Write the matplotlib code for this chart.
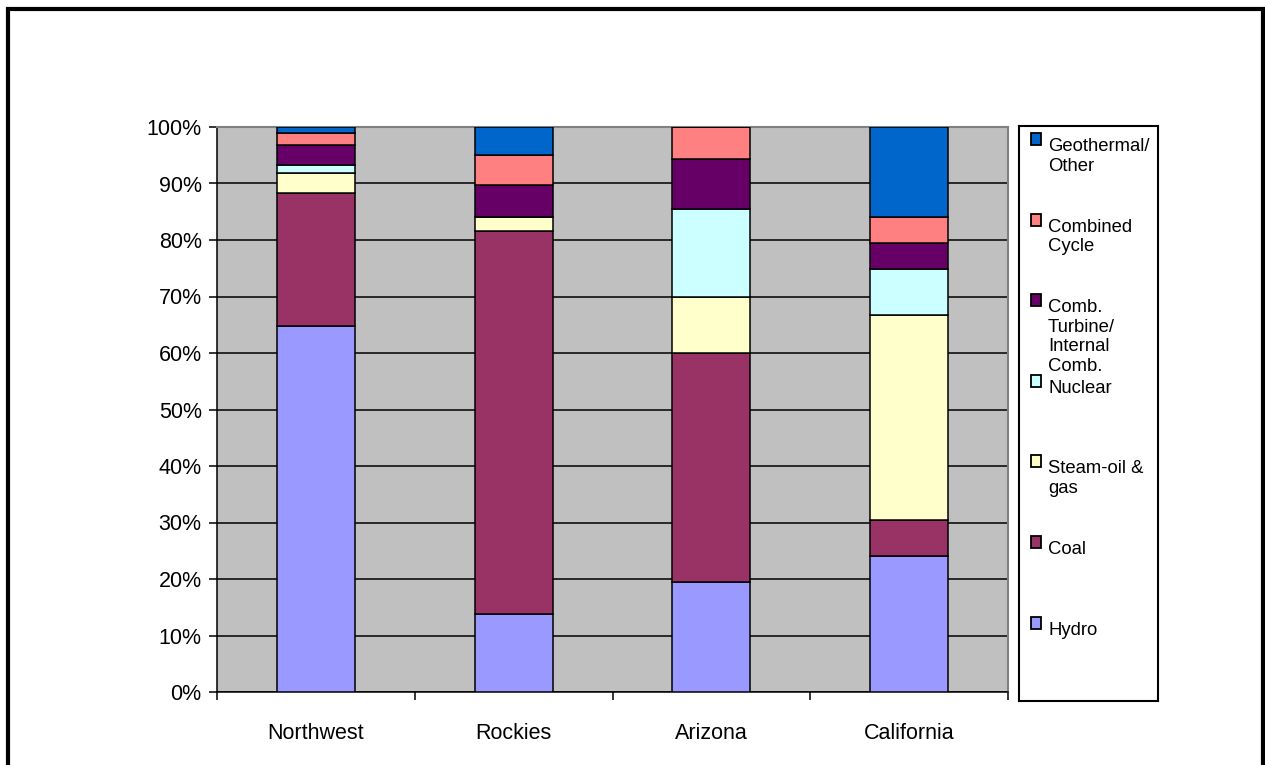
import numpy as np
import matplotlib.pyplot as plt
from matplotlib.patches import Rectangle

plt.rcParams['font.family'] = ['Liberation Sans', 'DejaVu Sans']

regions = ['Northwest', 'Rockies', 'Arizona', 'California']
series = ['Hydro', 'Coal', 'Steam-oil &\ngas', 'Nuclear',
          'Comb.\nTurbine/\nInternal\nComb.', 'Combined\nCycle', 'Geothermal/\nOther']
colors = ['#9999FF', '#993366', '#FFFFCC', '#CCFFFF', '#660066', '#FF8080', '#0066CC']

# shares in percent
hydro = [64.8, 13.8, 19.5, 24.1]
coal = [23.5, 67.8, 40.5, 6.3]
steam = [3.5, 2.4, 10.0, 36.3]
nuclear = [1.4, 0.0, 15.5, 8.2]
comb_turbine = [3.6, 5.7, 8.8, 4.6]
combined_cycle = [2.1, 5.3, 5.7, 4.6]
geothermal = [1.1, 5.0, 0.0, 15.9]

values = [hydro, coal, steam, nuclear, comb_turbine, combined_cycle, geothermal]

W, H = 1265, 765
fig = plt.figure(figsize=(W / 100, H / 100), dpi=100)

# outer frame (bottom edge runs off the picture)
fig.add_artist(Rectangle((8 / W, -0.05), (1263 - 8) / W, (H - 9) / H + 0.05,
                         transform=fig.transFigure, fill=False,
                         edgecolor='black', linewidth=3))

ax = fig.add_axes([217 / W, (H - 692) / H, 791 / W, 565 / H])
ax.set_facecolor('#C0C0C0')

ind = np.arange(len(regions))
bottom = np.zeros(len(regions))
for vals, col in zip(values, colors):
    v = np.array(vals)
    ax.bar(ind, v, 0.395, bottom=bottom, color=col, edgecolor='black',
           linewidth=1.1, zorder=3)
    bottom += v

ax.set_xlim(-0.5, len(regions) - 0.5)
ax.set_ylim(0, 100)
ax.set_yticks(np.arange(0, 101, 10))
ax.set_yticklabels(['%d%%' % t for t in range(0, 101, 10)], fontsize=15.5)
ax.yaxis.grid(True, color='black', linewidth=1.1, zorder=1)
ax.set_axisbelow(True)

ax.set_xticks(ind)
ax.set_xticklabels(regions, fontsize=15.5)
ax.set_xticks(np.arange(-0.5, len(regions)), minor=True)
ax.tick_params(axis='x', which='major', length=0, pad=22)
ax.tick_params(axis='x', which='minor', length=6, width=1.1, direction='out')
ax.tick_params(axis='y', length=6, width=1.1, pad=5)

for s in ['left', 'bottom']:
    ax.spines[s].set_color('black')
    ax.spines[s].set_linewidth(1.1)
for s in ['top', 'right']:
    ax.spines[s].set_color('#808080')
    ax.spines[s].set_linewidth(1.5)

# legend box drawn by hand in pixel units
lx0, lx1, ly0, ly1 = 1019, 1158, 126, 701
lax = fig.add_axes([lx0 / W, (H - ly1) / H, (lx1 - lx0) / W, (ly1 - ly0) / H])
lax.set_xlim(lx0, lx1)
lax.set_ylim(ly1, ly0)
lax.set_xticks([])
lax.set_yticks([])
for s in lax.spines.values():
    s.set_linewidth(1.5)
    s.set_color('black')

top = 133
step = 80.6
for i, (name, col) in enumerate(zip(series[::-1], colors[::-1])):
    y = top + i * step
    lax.add_patch(Rectangle((1031, y), 10, 12, facecolor=col,
                            edgecolor='black', linewidth=1.3))
    lax.text(1048, y + 5, name, fontsize=13.3, va='top', ha='left',
             linespacing=1.2)

fig.savefig('out.png', dpi=100)
